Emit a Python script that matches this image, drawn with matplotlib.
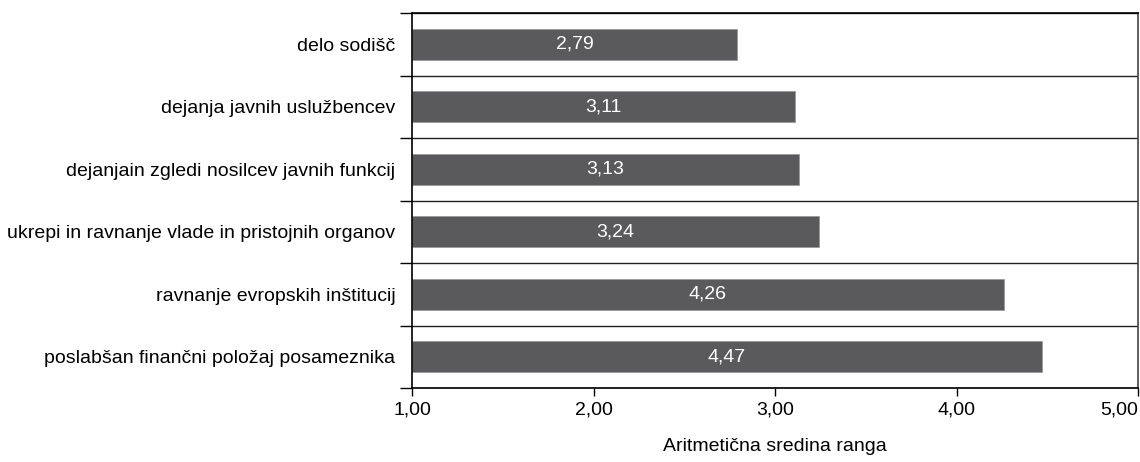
import numpy as np
import matplotlib.pyplot as plt
from matplotlib.ticker import FixedLocator, FuncFormatter

categories = ['delo sodišč',
              'dejanja javnih uslužbencev',
              'dejanjain zgledi nosilcev javnih funkcij',
              'ukrepi in ravnanje vlade in pristojnih organov',
              'ravnanje evropskih inštitucij',
              'poslabšan finančni položaj posameznika']
values = [2.79, 3.11, 3.13, 3.24, 4.26, 4.47]
x_ticks = [1, 2, 3, 4, 5]

plt.rcParams['font.family'] = ['Liberation Sans', 'DejaVu Sans']

fig = plt.figure(figsize=(11.4, 4.62), dpi=100)
ax = fig.add_axes([412 / 1140, 74 / 462, 726 / 1140, 375 / 462])

y = np.arange(len(categories))
base = 1.0
widths = [v - base for v in values]
ax.barh(y, widths, left=base, height=0.5, color='#5a5a5c', edgecolor='#9a9a9a', linewidth=0.6)

for yi, v in zip(y, values):
    ax.text((base + v) / 2, yi, f'{v:.2f}'.replace('.', ','), color='white',
            ha='center', va='center', fontsize=14)

ax.set_xlim(1, 5)
ax.set_ylim(len(categories) - 0.5, -0.5)
ax.set_xticks(x_ticks)
ax.xaxis.set_major_formatter(FuncFormatter(lambda x, pos: f'{x:.2f}'.replace('.', ',')))
ax.set_yticks(y)
ax.set_yticklabels(categories)
ax.yaxis.set_minor_locator(FixedLocator(np.arange(-0.5, len(categories), 1.0)))

ax.tick_params(axis='y', which='major', length=0, pad=12, labelsize=14)
ax.tick_params(axis='y', which='minor', length=9, width=1, color='black', direction='out')
ax.tick_params(axis='x', which='major', length=6, width=1, labelsize=14, pad=4)
ax.get_xticklabels()[-1].set_horizontalalignment('right')

ax.grid(axis='y', which='minor', color='#222222', linewidth=1)
ax.set_axisbelow(True)

for s in ['left', 'bottom', 'top']:
    ax.spines[s].set_color('black')
    ax.spines[s].set_linewidth(1.2)
ax.spines['right'].set_color('#444444')
ax.spines['right'].set_linewidth(1.2)

ax.set_xlabel('Aritmetična sredina ranga', fontsize=14, labelpad=14)

fig.savefig('out.png', dpi=100)
